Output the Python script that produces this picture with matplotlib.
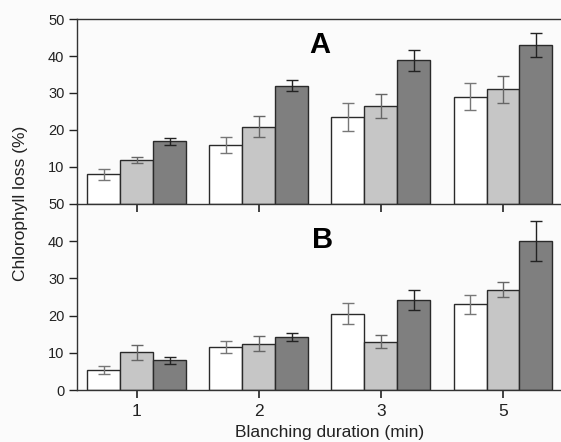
import matplotlib.pyplot as plt
import numpy as np

plt.rcParams['font.family'] = ['Liberation Sans', 'DejaVu Sans']

durations = ['1', '2', '3', '5']

# panel A
a_white = [8.0, 15.9, 23.5, 29.0]
a_white_err = [1.4, 2.2, 3.7, 3.6]
a_light = [11.9, 20.9, 26.5, 31.0]
a_light_err = [0.75, 2.85, 3.2, 3.65]
a_dark = [16.9, 32.0, 38.8, 43.0]
a_dark_err = [1.0, 1.5, 2.8, 3.25]

# panel B
b_white = [5.3, 11.6, 20.5, 23.0]
b_white_err = [1.1, 1.6, 2.8, 2.5]
b_light = [10.1, 12.5, 13.0, 27.0]
b_light_err = [2.1, 1.9, 1.7, 2.1]
b_dark = [8.0, 14.2, 24.1, 40.0]
b_dark_err = [0.9, 1.1, 2.65, 5.3]

fig = plt.figure(figsize=(5.61, 4.42), dpi=100)
fig.patch.set_facecolor('#fbfbfb')

ax_a = fig.add_axes([0.137, 0.5385, 0.863, 0.4185])
ax_b = fig.add_axes([0.137, 0.1176, 0.863, 0.4209])

x = np.arange(len(durations))
w = 0.27
colors = ['white', '#c6c6c6', '#7f7f7f']
ecolors = ['#777777', '#666666', '#222222']


def draw(ax, series, errs):
    for i, (vals, err) in enumerate(zip(series, errs)):
        ax.bar(x + (i - 1) * w, vals, w, color=colors[i], edgecolor='#2a2a2a',
               linewidth=1.0, yerr=err, ecolor=ecolors[i], capsize=4,
               error_kw={'elinewidth': 1.0, 'capthick': 1.0}, zorder=2)
    ax.set_xlim(-0.49, 3.475)
    ax.set_ylim(0, 50)
    ax.set_facecolor('none')
    ax.spines['right'].set_visible(False)
    for s in ax.spines.values():
        s.set_color('#333333')
        s.set_linewidth(1.0)
    ax.set_xticks(x)
    ax.tick_params(axis='x', direction='out', length=6, width=1.2, colors='#222222',
                   labelsize=12.5, pad=4)
    ax.tick_params(axis='y', direction='out', length=6, width=1.0, colors='#222222',
                   labelsize=10.5, pad=3)


draw(ax_a, [a_white, a_light, a_dark], [a_white_err, a_light_err, a_dark_err])
draw(ax_b, [b_white, b_light, b_dark], [b_white_err, b_light_err, b_dark_err])

ax_a.set_yticks([10, 20, 30, 40, 50])
ax_a.set_xticklabels([])
ax_b.spines['top'].set_visible(False)
ax_b.set_yticks([0, 10, 20, 30, 40, 50])
ax_b.set_xticklabels(durations)

ax_a.text(0.501, 0.86, 'A', transform=ax_a.transAxes, fontsize=21,
          fontweight='bold', ha='center', va='center')
ax_b.text(0.507, 0.806, 'B', transform=ax_b.transAxes, fontsize=21,
          fontweight='bold', ha='center', va='center')

fig.text(0.037, 0.541, 'Chlorophyll loss (%)', rotation=90, ha='center',
         va='center', fontsize=12.5, color='#222222')
fig.text(0.587, 0.022, 'Blanching duration (min)', ha='center', va='center',
         fontsize=12.5, color='#222222')

fig.savefig('out.png', dpi=100, facecolor=fig.get_facecolor())
